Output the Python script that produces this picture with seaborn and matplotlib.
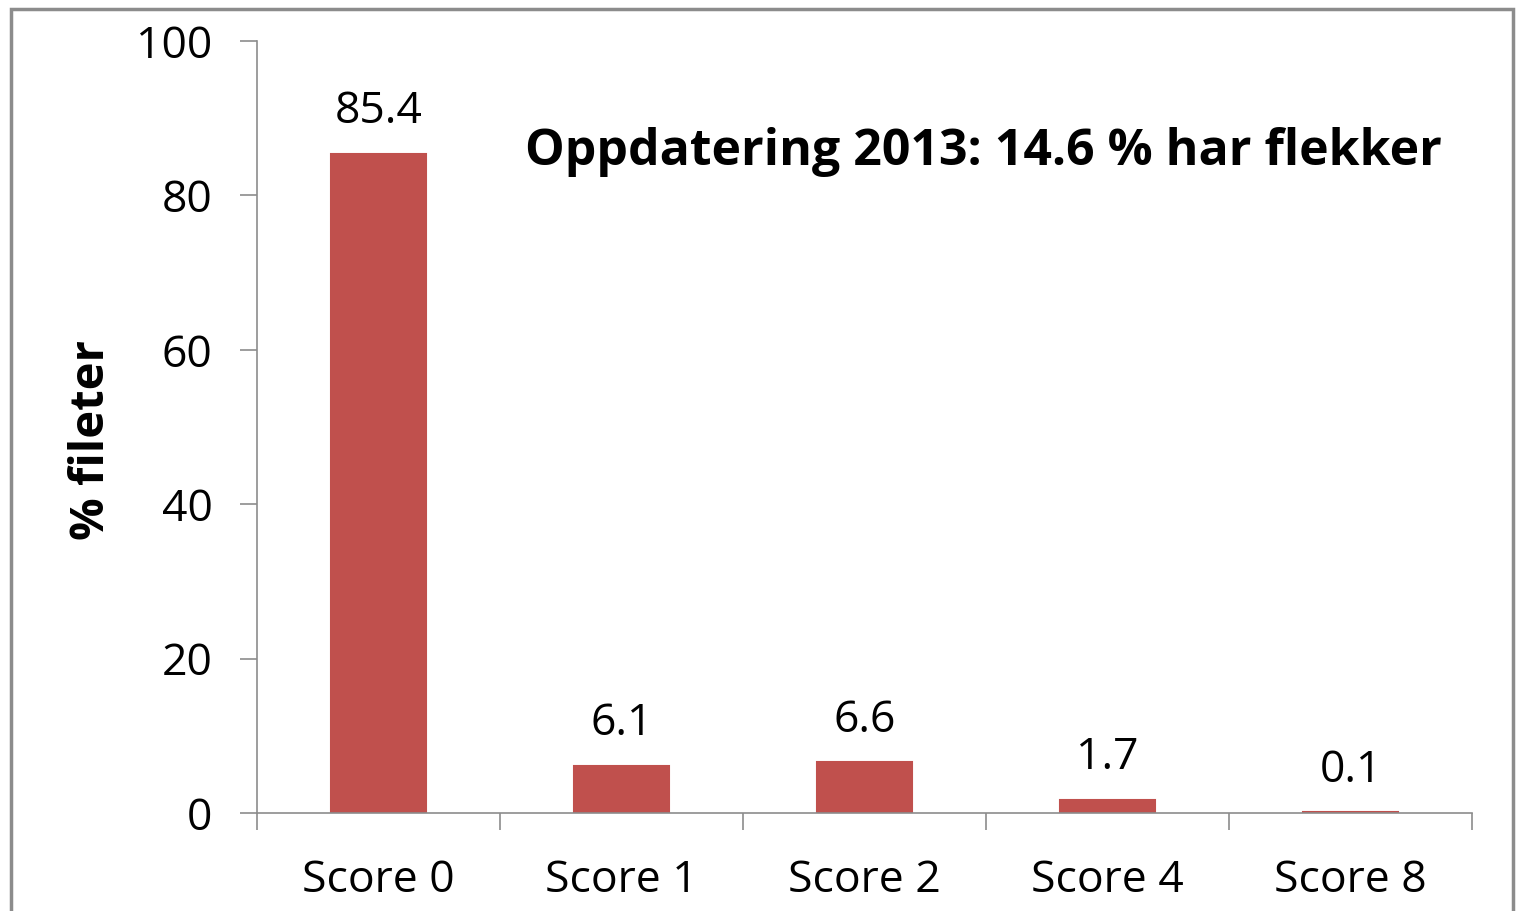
import numpy as np
import pandas as pd
import seaborn as sns
import matplotlib.pyplot as plt
from matplotlib.patches import Rectangle

categories = ["Score 0", "Score 1", "Score 2", "Score 4", "Score 8"]
values = [85.4, 6.1, 6.6, 1.7, 0.1]
value_labels = ["85.4", "6.1", "6.6", "1.7", "0.1"]
y_ticks = [0, 20, 40, 60, 80, 100]

df = pd.DataFrame({"score": categories, "pct": values})

sns.set_theme(style="white")
plt.rcParams["font.family"] = ["Open Sans", "DejaVu Sans"]
plt.rcParams["text.color"] = "black"
plt.rcParams["xtick.color"] = "black"
plt.rcParams["ytick.color"] = "black"
plt.rcParams["axes.labelcolor"] = "black"

fig = plt.figure(figsize=(15.16, 9.11), dpi=100)
ax = fig.add_axes([257 / 1516, 1 - 813 / 911, (1472 - 257) / 1516, (813 - 41) / 911])

sns.barplot(data=df, x="score", y="pct", color="#C0504D", saturation=1, width=0.39,
            edgecolor="#C0504D", linewidth=1.5, ax=ax)

ax.set_ylim(0, 100)
ax.set_xlim(-0.5, len(categories) - 0.5)
ax.set_yticks(y_ticks)
ax.set_yticklabels([str(t) for t in y_ticks], fontsize=32)
ax.set_xticks(range(len(categories)))
ax.set_xticklabels(categories, fontsize=32)
ax.set_xticks(np.arange(-0.5, len(categories), 1.0), minor=True)
ax.tick_params(axis="x", which="major", length=0, pad=33)
ax.tick_params(axis="x", which="minor", length=12, width=1.2, color="#8c8c8c", direction="out", bottom=True)
ax.tick_params(axis="y", which="major", length=12, width=1.2, color="#8c8c8c", direction="out", left=True, pad=20)

for s in ["top", "right"]:
    ax.spines[s].set_visible(False)
for s in ["left", "bottom"]:
    ax.spines[s].set_color("#8c8c8c")
    ax.spines[s].set_linewidth(1.2)

ax.set_xlabel("")
ax.set_ylabel("% fileter", fontsize=34, fontweight="bold")
ax.yaxis.set_label_coords(-0.117, 0.483)

for cont in ax.containers:
    ax.bar_label(cont, labels=value_labels, padding=14, fontsize=32)

ax.text(0.598, 0.856, "Oppdatering 2013: 14.6 % har flekker", transform=ax.transAxes,
        ha="center", va="center", fontsize=36, fontweight="bold")

fig.patches.append(Rectangle((11 / 1516, -0.05), (1513 - 11) / 1516, 1 - 9 / 911 + 0.05,
                             transform=fig.transFigure, fill=False, edgecolor="#8c8c8c",
                             linewidth=2.5, clip_on=False))

fig.savefig("out.png", dpi=100)
